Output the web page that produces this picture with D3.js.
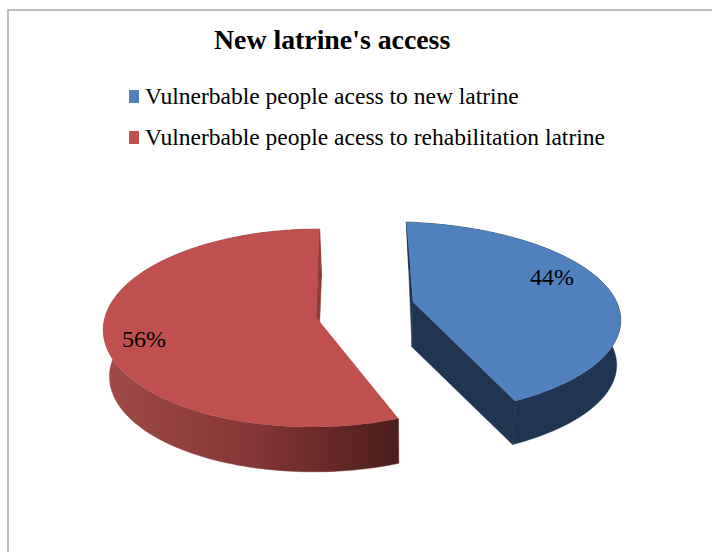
<!DOCTYPE html>
<html>
<head>
<meta charset="utf-8">
<script src="https://cdn.jsdelivr.net/npm/d3@7/dist/d3.min.js"></script>
<style>
html,body{margin:0;padding:0;background:#fff}
svg{display:block}
text{font-family:"Liberation Serif","Times New Roman",serif;fill:#000}
</style>
</head>
<body>
<svg id="chart" width="712" height="552"></svg>
<script>
const chartTitle = "New latrine's access";
const categories = ["Vulnerbable people acess to new latrine", "Vulnerbable people acess to rehabilitation latrine"];
const shares = [44, 56];
const faceColors = ["#4f81bd", "#c0504d"];

// Each exploded slice gets its own perspective frame: top disc, then the lower rim.
const frames = [
  {cx:413, cy:302, rx:224, ry:93.6, k:0.17, m:0.10, skew:7.8, lowBackSkew:4, bx:412, by:347, shrink:0.985},
  {cx:316, cy:317, rx:211, ry:97.8, k:0.111, m:0, skew:-4, lowBackSkew:-4, bx:318, by:364, shrink:0.98}
];
const labelAnchors = [[552, 285], [144, 347]];

const svg = d3.select("#chart");

// Chart area outline runs off the right and bottom of the page.
svg.append("path")
  .attr("d", "M8 552V10H712")
  .attr("fill", "none").attr("stroke", "#a6a6a6").attr("stroke-width", 1.5);

const defs = svg.append("defs");
const rimRed = defs.append("linearGradient").attr("id", "rimRed")
  .attr("gradientUnits", "userSpaceOnUse")
  .attr("x1", 105).attr("x2", 398).attr("y1", 0).attr("y2", 0);
rimRed.append("stop").attr("offset", 0).attr("stop-color", "#a04b47");
rimRed.append("stop").attr("offset", 0.5).attr("stop-color", "#843734");
rimRed.append("stop").attr("offset", 1).attr("stop-color", "#4c1d1b");
const rimFills = ["#1f3552", "url(#rimRed)"];

function project(f, angle, cx, cy, scale, backSkew) {
  const u = Math.sin(angle), v = -Math.cos(angle);
  const w = 1 - f.k * v + f.m * u;
  const skew = v < 0 ? backSkew : f.skew;
  return [
    cx + scale * (f.rx * u + skew * v) / w,
    cy + scale * f.ry * v / w
  ];
}

const pie = d3.pie().sort(null).value(d => d);
const slices = pie(shares);
const line = d3.line();

slices.forEach((s, i) => {
  const f = frames[i];
  const angles = d3.range(0, 121).map(t => s.startAngle + (s.endAngle - s.startAngle) * t / 120);
  const topArc = angles.map(a => project(f, a, f.cx, f.cy, 1, f.skew));
  const lowArc = angles.map(a => project(f, a, f.bx, f.by, f.shrink, f.lowBackSkew));
  const g = svg.append("g");

  // Outer rim
  g.append("path").attr("d", line(topArc.concat(lowArc.slice().reverse())) + "Z")
    .attr("fill", rimFills[i]).attr("stroke", rimFills[i]).attr("stroke-width", 0.5);
  // Cut walls that face the viewer: both on the blue slice, the far one on the red
  (i === 0 ? [0, 120] : [120]).forEach(n => {
    const wall = i === 0 ? "#1f3552" : "#8f3d3a";
    g.append("path")
      .attr("d", line([topArc[n], lowArc[n], [f.bx, f.by], [f.cx, f.cy]]) + "Z")
      .attr("fill", wall).attr("stroke", wall).attr("stroke-width", 0.5);
  });
  // Top face
  g.append("path").attr("d", line([[f.cx, f.cy]].concat(topArc)) + "Z")
    .attr("fill", faceColors[i]);
  // Percentage label
  g.append("text")
    .attr("x", labelAnchors[i][0]).attr("y", labelAnchors[i][1])
    .attr("text-anchor", "middle").attr("font-size", 24)
    .text(d3.format(".0%")(s.data / 100));
});

svg.append("text").attr("x", 214).attr("y", 49)
  .attr("font-size", 27.8).attr("font-weight", "bold").text(chartTitle);

const legendY = d3.scalePoint().domain(categories).range([104, 145]);
const legend = svg.selectAll("g.legend").data(categories).join("g").attr("class", "legend");
legend.append("rect")
  .attr("x", 129).attr("y", d => legendY(d) - 14)
  .attr("width", 10).attr("height", 13)
  .attr("fill", (d, i) => faceColors[i]);
legend.append("text")
  .attr("x", 145).attr("y", d => legendY(d))
  .attr("font-size", 23.5).text(d => d);
</script>
</body>
</html>
